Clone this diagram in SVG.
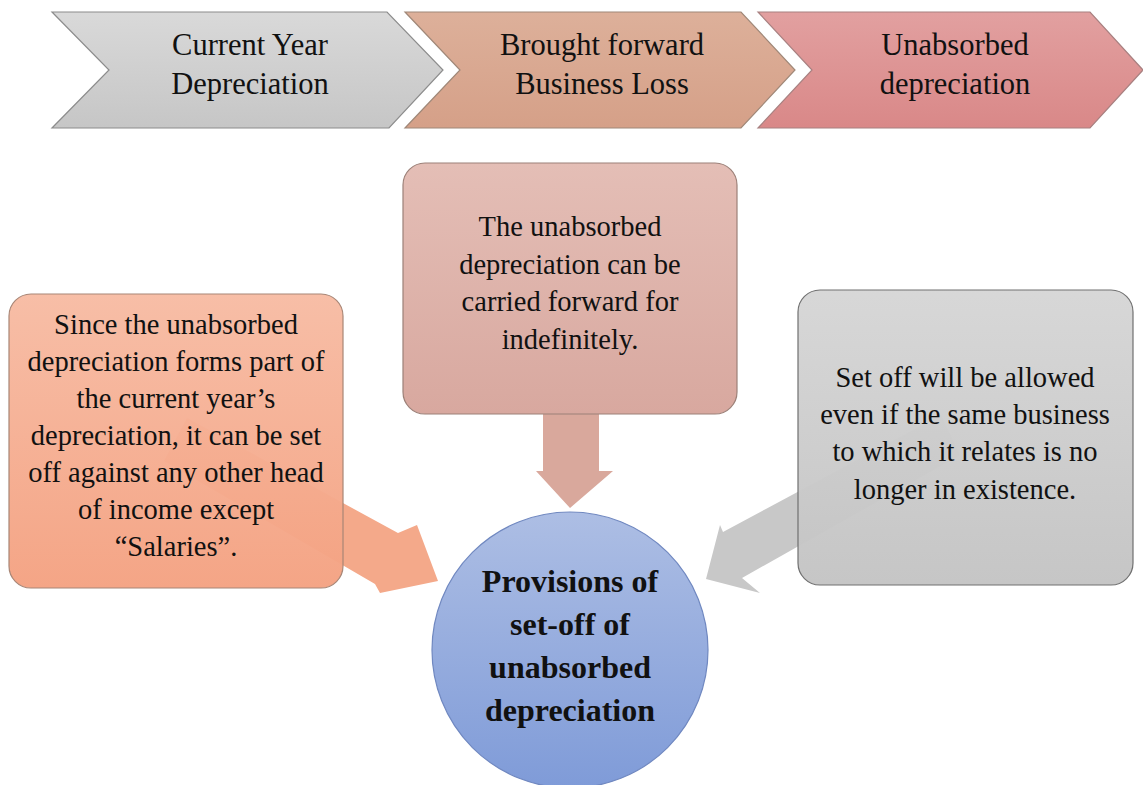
<svg xmlns="http://www.w3.org/2000/svg" width="1143" height="785" viewBox="0 0 1143 785">
<defs>
<linearGradient id="gGray" x1="0" y1="0" x2="0" y2="1"><stop offset="0" stop-color="#d9d9d9"/><stop offset="1" stop-color="#c6c6c6"/></linearGradient>
<linearGradient id="gTan" x1="0" y1="0" x2="0" y2="1"><stop offset="0" stop-color="#ddb09a"/><stop offset="1" stop-color="#d5a088"/></linearGradient>
<linearGradient id="gRed" x1="0" y1="0" x2="0" y2="1"><stop offset="0" stop-color="#e2a0a0"/><stop offset="1" stop-color="#d98888"/></linearGradient>
<linearGradient id="gOrange" x1="0" y1="0" x2="0" y2="1"><stop offset="0" stop-color="#f7bca4"/><stop offset="1" stop-color="#f4a282"/></linearGradient>
<linearGradient id="gPink" x1="0" y1="0" x2="0" y2="1"><stop offset="0" stop-color="#e4beb6"/><stop offset="1" stop-color="#d8a89f"/></linearGradient>
<linearGradient id="gBoxGray" x1="0" y1="0" x2="0" y2="1"><stop offset="0" stop-color="#d6d6d6"/><stop offset="1" stop-color="#c4c4c4"/></linearGradient>
<linearGradient id="gBlue" x1="0" y1="0" x2="0" y2="1"><stop offset="0" stop-color="#adbee4"/><stop offset="1" stop-color="#7f9bd8"/></linearGradient>
</defs>
<style>
.t{font-family:"Liberation Serif","Times New Roman",serif;fill:#111;text-anchor:middle}
.chev{font-size:30.5px}
.box{font-size:28.5px}
.circ{font-size:32px;font-weight:bold}
</style>
<g id="connectors">
<polygon fill="#f4a98a" points="187,418 398,533 417,525 438,581 380,593 375,584 164,461"/>
<polygon fill="#c8c8c8" points="941,415 723,532 720,525 706,579 760,593 742,578 960,455"/>
<polygon fill="#d9a89c" points="543,414 599,414 599,471 613,471 570,508 536,471 543,471"/>
</g>
<g id="chev1">
<polygon points="52,12 387,12 443,70 389,128 52,128 109,70" fill="url(#gGray)" stroke="#8c8c8c" stroke-width="1.2"/>
<text class="t chev" x="250" y="55">Current Year</text>
<text class="t chev" x="250" y="94">Depreciation</text>
</g>
<g id="chev2">
<polygon points="405,12 741,12 795,70 741,128 405,128 460,70" fill="url(#gTan)" stroke="#a08878" stroke-width="1.2"/>
<text class="t chev" x="602" y="55">Brought forward</text>
<text class="t chev" x="602" y="94">Business Loss</text>
</g>
<g id="chev3">
<polygon points="758,12 1090,12 1143,70 1090,128 758,128 812,70" fill="url(#gRed)" stroke="#a88080" stroke-width="1.2"/>
<text class="t chev" x="955" y="55">Unabsorbed</text>
<text class="t chev" x="955" y="94">depreciation</text>
</g>
<g id="box-left">
<rect x="9" y="294" width="334" height="294" rx="22" fill="url(#gOrange)" stroke="#a88676" stroke-width="1.2" fill-opacity="0.97"/>
<text class="t box" x="176" y="334">Since the unabsorbed</text>
<text class="t box" x="176" y="371">depreciation forms part of</text>
<text class="t box" x="176" y="408">the current year’s</text>
<text class="t box" x="176" y="445">depreciation, it can be set</text>
<text class="t box" x="176" y="482">off against any other head</text>
<text class="t box" x="176" y="519">of income except</text>
<text class="t box" x="176" y="556">“Salaries”.</text>
</g>
<g id="box-middle">
<rect x="403" y="163" width="334" height="251" rx="22" fill="url(#gPink)" stroke="#9c8078" stroke-width="1.2"/>
<text class="t box" x="570" y="236">The unabsorbed</text>
<text class="t box" x="570" y="274">depreciation can be</text>
<text class="t box" x="570" y="311">carried forward for</text>
<text class="t box" x="570" y="349">indefinitely.</text>
</g>
<g id="box-right">
<rect x="798" y="290" width="335" height="295" rx="22" fill="url(#gBoxGray)" stroke="#707070" stroke-width="1.2" fill-opacity="0.97"/>
<text class="t box" x="965" y="387">Set off will be allowed</text>
<text class="t box" x="965" y="424">even if the same business</text>
<text class="t box" x="965" y="461">to which it relates is no</text>
<text class="t box" x="965" y="499">longer in existence.</text>
</g>
<g id="circle">
<circle cx="570" cy="650" r="138" fill="url(#gBlue)" stroke="#7088c0" stroke-width="1.2"/>
<text class="t circ" x="570" y="592">Provisions of</text>
<text class="t circ" x="570" y="635">set-off of</text>
<text class="t circ" x="570" y="678">unabsorbed</text>
<text class="t circ" x="570" y="721">depreciation</text>
</g>
</svg>
